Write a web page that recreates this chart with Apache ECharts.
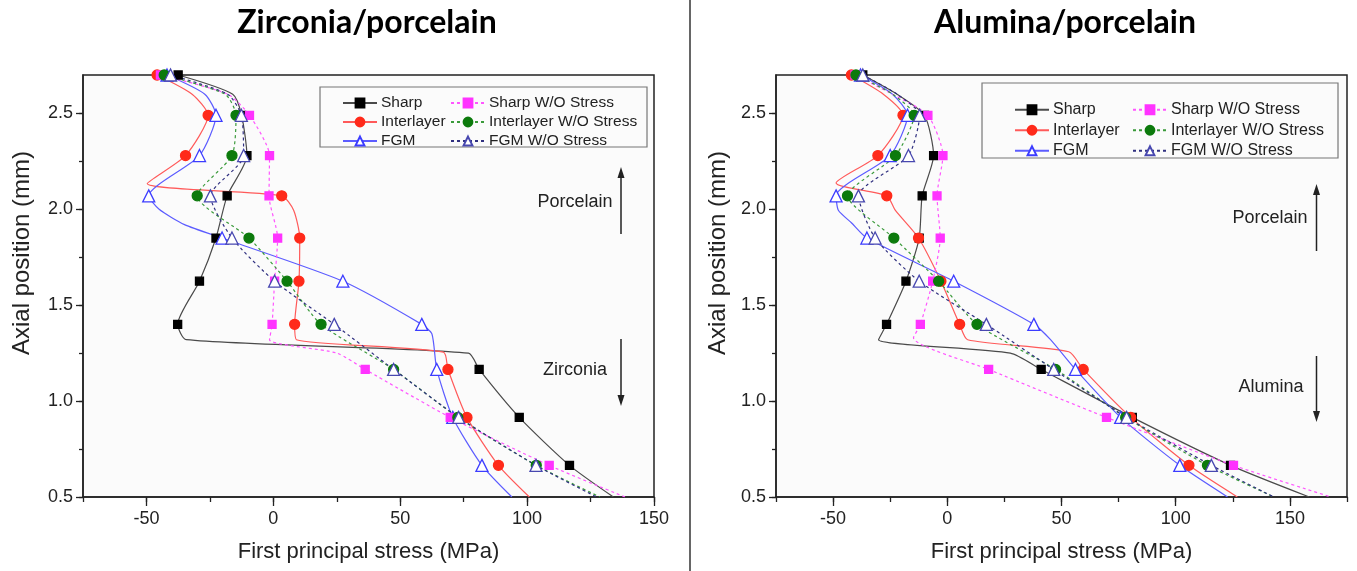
<!DOCTYPE html>
<html><head><meta charset="utf-8">
<script src="https://cdn.jsdelivr.net/npm/echarts@6/dist/echarts.min.js"></script>
<style>html,body{margin:0;padding:0;background:#fff}#c{width:1357px;height:571px}</style>
</head><body><div id="c"></div>
<script>
// ---- data ----
const markerPos = [2.7, 2.49, 2.28, 2.07, 1.85, 1.625, 1.40, 1.165, 0.915, 0.665];
const leftTicksX = [-75,-50,-25,0,25,50,75,100,125,150];
const rightTicksX = [-75,-50,-25,0,25,50,75,100,125,150,175];
const majorTicksX = [-50,0,50,100,150];
const xLabels = [-50,0,50,100,150];
const minorTicksY = [0.5,0.75,1.0,1.25,1.5,1.75,2.0,2.25,2.5];
const yLabels = [0.5,1.0,1.5,2.0,2.5];
const seriesNames = ['Sharp','Interlayer','FGM','Sharp W/O Stress','Interlayer W/O Stress','FGM W/O Stress'];

// Zirconia/porcelain  [stress MPa, axial position mm]
const zrSharp = [[-37.5,2.7],[-16,2.6],[-12.5,2.49],[-10.4,2.28],[-18.2,2.07],[-22.6,1.85],[-29.1,1.625],[-37.7,1.40],[-34.3,1.32],[76.9,1.25],[81.1,1.165],[96.9,0.915],[116.7,0.665],[134,0.5]];
const zrInter = [[-45.8,2.7],[-32,2.6],[-25.7,2.49],[-34.6,2.28],[-49.7,2.134],[3.3,2.07],[8,1.995],[10.4,1.85],[10.1,1.625],[8.4,1.40],[9.1,1.32],[67,1.255],[68.8,1.165],[76.3,0.915],[88.7,0.665],[100.9,0.5]];
const zrFGM = [[-41.9,2.7],[-27,2.6],[-22.6,2.49],[-29.1,2.28],[-49.1,2.07],[-45,2.0],[-35,1.92],[-20.2,1.85],[27.4,1.625],[58.5,1.40],[62.5,1.35],[64.4,1.165],[70.7,0.915],[82.2,0.665],[94,0.5]];
const zrSharpWO = [[-44.5,2.7],[-18,2.6],[-9.4,2.49],[-1.5,2.28],[-1.7,2.07],[1.7,1.85],[0.5,1.625],[-0.5,1.40],[-1.5,1.32],[25,1.25],[36.2,1.165],[69.7,0.915],[108.7,0.665],[138.6,0.5]];
const zrInterWO = [[-43,2.7],[-19,2.6],[-14.7,2.49],[-16.3,2.28],[-30,2.07],[-9.6,1.85],[5.4,1.625],[18.8,1.40],[47.4,1.165],[72.7,0.915],[103.6,0.665],[128.7,0.5]];
const zrFGMWO = [[-40.5,2.7],[-18,2.6],[-12.6,2.49],[-11.7,2.28],[-24.8,2.07],[-16.3,1.85],[0.5,1.625],[24,1.40],[47.4,1.165],[73,0.915],[103.5,0.665],[127.4,0.5]];

// Alumina/porcelain
const alSharp = [[-37,2.7],[-22,2.6],[-10,2.49],[-6,2.28],[-11,2.07],[-12.3,1.85],[-18.1,1.625],[-26.6,1.40],[-30.1,1.32],[27.6,1.25],[41.1,1.165],[81,0.915],[124,0.665],[158.5,0.5]];
const alInter = [[-42,2.7],[-28,2.6],[-19.4,2.49],[-30.4,2.28],[-48.7,2.137],[-26.5,2.07],[-22.8,1.995],[-12.6,1.85],[-2.8,1.625],[5.4,1.40],[8.9,1.32],[53.2,1.257],[59.5,1.165],[80.3,0.915],[105.8,0.665],[127,0.5]];
const alFGM = [[-38,2.7],[-24,2.6],[-17.4,2.49],[-25,2.28],[-48.7,2.07],[-47.7,1.995],[-42,1.93],[-35.2,1.85],[2.8,1.625],[37.9,1.40],[45.2,1.32],[56.1,1.165],[75.9,0.915],[101.8,0.665],[122.7,0.5]];
const alSharpWO = [[-40.4,2.7],[-24,2.6],[-8.5,2.49],[-1.9,2.28],[-4.5,2.07],[-3.1,1.85],[-6.4,1.625],[-11.8,1.40],[-14.8,1.33],[18.1,1.165],[69.7,0.915],[125.3,0.665],[168,0.5]];
const alInterWO = [[-40,2.7],[-24,2.6],[-14.5,2.49],[-22.7,2.28],[-43.7,2.07],[-23.4,1.85],[-3.8,1.625],[13,1.40],[47.4,1.165],[78.1,0.915],[113.9,0.665],[143,0.5]];
const alFGMWO = [[-37,2.7],[-22,2.6],[-12.1,2.49],[-17,2.28],[-38.9,2.07],[-31.6,1.85],[-12.3,1.625],[17.1,1.40],[46.6,1.165],[78.5,0.915],[115.6,0.665],[143,0.5]];

// ---- styles ----
const styles = {
  'Sharp': {symbol:'rect', size:8, fill:'#000', border:'#000', line:'#4a4a4a', type:'solid'},
  'Interlayer': {symbol:'circle', size:10, fill:'#ff2a1a', border:'#ff2a1a', line:'#ff5a5a', type:'solid'},
  'FGM': {symbol:'triangle', size:12, fill:'#fff', border:'#3c3cff', line:'#5c5cff', type:'solid'},
  'Sharp W/O Stress': {symbol:'rect', size:8, fill:'#ff33ff', border:'#ff33ff', line:'#ff55ff', type:[3,3]},
  'Interlayer W/O Stress': {symbol:'circle', size:10, fill:'#0c7a0c', border:'#0c7a0c', line:'#3a9a3a', type:[3,3]},
  'FGM W/O Stress': {symbol:'triangle', size:12, fill:'#fff', border:'#4848b0', line:'#303080', type:[3,3]}
};

function mk(name, pts, idx) {
  const s = styles[name];
  return {
    name: name, type: 'line', xAxisIndex: idx, yAxisIndex: idx,
    smooth: 0.22, symbol: s.symbol, symbolSize: s.size, showAllSymbol: true,
    itemStyle: {color: s.fill, borderColor: s.border, borderWidth: 1.3},
    lineStyle: {color: s.line, width: 1.2, type: s.type},
    data: pts.map(p => markerPos.indexOf(p[1]) >= 0 ? {value: p} : {value: p, symbol: 'none'}),
    z: 3
  };
}

const FONT = 'Liberation Sans, Arial, sans-serif';
function xAxes(gridIndex, max, ticks) {
  return [
    {type:'value', gridIndex, min:-75, max, position:'bottom',
     axisLine:{show:true, onZero:false, lineStyle:{color:'#222', width:1.5}},
     axisTick:{show:true, length:5, customValues:ticks, lineStyle:{color:'#222', width:1.3}},
     axisLabel:{customValues:xLabels, fontSize:18, color:'#222', fontFamily:FONT, margin:13},
     splitLine:{show:false},
     name:'First principal stress (MPa)', nameLocation:'middle', nameGap:44,
     nameTextStyle:{fontSize:22, color:'#222', fontFamily:FONT}},
    {type:'value', gridIndex, min:-75, max, position:'bottom',
     axisLine:{show:false, onZero:false}, axisTick:{show:true, length:9, customValues:majorTicksX, lineStyle:{color:'#222', width:1.3}},
     axisLabel:{show:false}, splitLine:{show:false}}
  ];
}
function yAxes(gridIndex) {
  return [
    {type:'value', gridIndex, min:0.5, max:2.7, position:'left',
     axisLine:{show:true, onZero:false, lineStyle:{color:'#222', width:1.5}},
     axisTick:{show:true, length:4, customValues:minorTicksY, lineStyle:{color:'#222', width:1.3}},
     axisLabel:{customValues:yLabels, fontSize:18, color:'#222', fontFamily:FONT, margin:10, formatter:v=>v.toFixed(1)},
     splitLine:{show:false}},
    {type:'value', gridIndex, min:0.5, max:2.7, position:'left',
     axisLine:{show:false, onZero:false}, axisTick:{show:true, length:7, customValues:yLabels, lineStyle:{color:'#222', width:1.3}},
     axisLabel:{show:false}, splitLine:{show:false}}
  ];
}

function legendPair(leftA, leftB, top, fs, lh) {
  const base = {orient:'vertical', top, itemWidth:34, itemHeight:11, itemGap:3,
    textStyle:{fontSize:fs, lineHeight:lh, color:'#222', fontFamily:FONT, padding:[0,0,0,-1]}, selectedMode:false};
  return [
    Object.assign({}, base, {left:leftA, data:seriesNames.slice(0,3)}),
    Object.assign({}, base, {left:leftB, data:seriesNames.slice(3)})
  ];
}

function arrow(x, y1, y2) { // from y1 to tip y2
  const dir = y2 < y1 ? 1 : -1;
  return [
    {type:'line', shape:{x1:x, y1:y1, x2:x, y2:y2 + dir*6}, style:{stroke:'#222', lineWidth:1.5}},
    {type:'polygon', shape:{points:[[x, y2],[x-3.5, y2 + dir*11],[x+3.5, y2 + dir*11]]}, style:{fill:'#222'}}
  ];
}
function yTitle(x) {
  return {type:'text', x:x, y:253, rotation:Math.PI/2,
    style:{text:'Axial position (mm)', font:'24px "Liberation Sans", Arial', fill:'#222', textAlign:'center', textVerticalAlign:'middle'}};
}

const chart = echarts.init(document.getElementById('c'), null, {renderer:'canvas'});
const zrSets = [zrSharp, zrInter, zrFGM, zrSharpWO, zrInterWO, zrFGMWO];
const alSets = [alSharp, alInter, alFGM, alSharpWO, alInterWO, alFGMWO];
const series = [];
seriesNames.forEach((n,i) => series.push(mk(n, zrSets[i], 0)));
seriesNames.forEach((n,i) => series.push(mk(n, alSets[i], 2)));

chart.setOption({
  animation: false,
  backgroundColor: '#ffffff',
  grid: [
    {left:83, top:75, width:571, height:422, show:true, borderColor:'#222', borderWidth:1.5, backgroundColor:'#fbfbfb', containLabel:false},
    {left:776, top:75, width:571, height:422, show:true, borderColor:'#222', borderWidth:1.5, backgroundColor:'#fbfbfb', containLabel:false}
  ],
  xAxis: xAxes(0, 150, leftTicksX).concat(xAxes(1, 175, rightTicksX)),
  yAxis: yAxes(0).concat(yAxes(1)),
  legend: legendPair(337, 445, 90, 15.5, 16).concat(legendPair(1009, 1127, 96, 16, 17.5)),
  series: series,
  graphic: [
    {type:'text', x:367, y:23, style:{text:'Zirconia/porcelain', font:'bold 32px Lato, "Open Sans", sans-serif', fill:'#000', textAlign:'center', textVerticalAlign:'middle'}},
    {type:'text', x:1065, y:23, style:{text:'Alumina/porcelain', font:'bold 32px Lato, "Open Sans", sans-serif', fill:'#000', textAlign:'center', textVerticalAlign:'middle'}},
    {type:'line', shape:{x1:690, y1:0, x2:690, y2:571}, style:{stroke:'#333', lineWidth:1.5}},
    {type:'rect', shape:{x:320, y:87, width:327, height:60}, style:{fill:'#fbfbfb', stroke:'#777', lineWidth:1.2}, z:1},
    {type:'rect', shape:{x:982, y:83, width:356, height:75}, style:{fill:'#fbfbfb', stroke:'#777', lineWidth:1.2}, z:1},
    {type:'text', x:575, y:202, style:{text:'Porcelain', font:'18px "Liberation Sans", Arial', fill:'#222', textAlign:'center', textVerticalAlign:'middle'}},
    {type:'text', x:575, y:370, style:{text:'Zirconia', font:'18px "Liberation Sans", Arial', fill:'#222', textAlign:'center', textVerticalAlign:'middle'}},
    {type:'text', x:1270, y:218, style:{text:'Porcelain', font:'18px "Liberation Sans", Arial', fill:'#222', textAlign:'center', textVerticalAlign:'middle'}},
    {type:'text', x:1271, y:387, style:{text:'Alumina', font:'18px "Liberation Sans", Arial', fill:'#222', textAlign:'center', textVerticalAlign:'middle'}},
    yTitle(22), yTitle(718)
  ].concat(arrow(621, 234, 167), arrow(621, 339, 406), arrow(1316.5, 251, 184), arrow(1316.5, 356, 422))
});
</script></body></html>
